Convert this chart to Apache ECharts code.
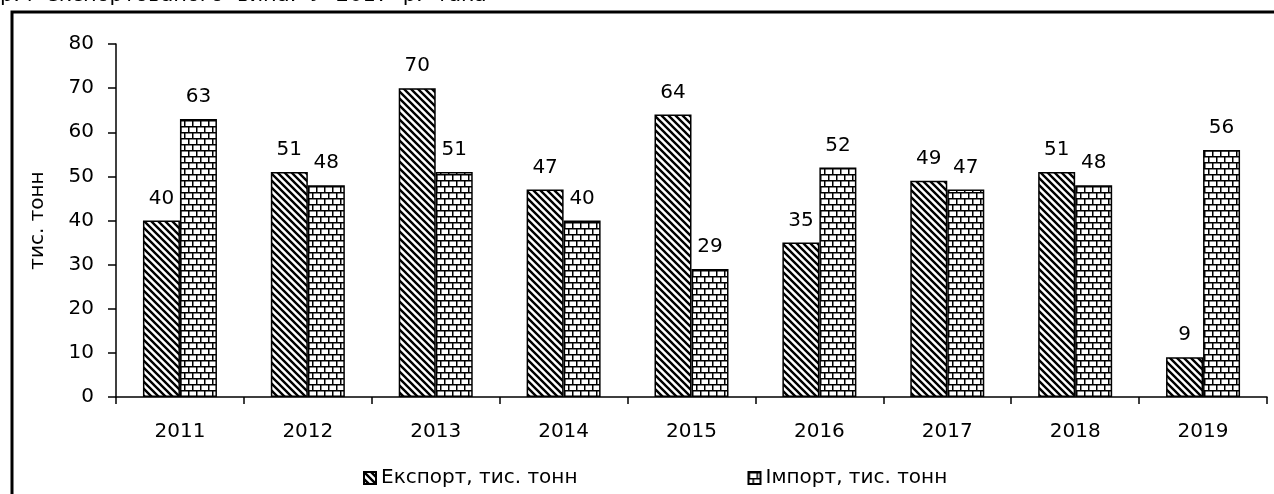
<!DOCTYPE html>
<html>
<head>
<meta charset="utf-8">
<script src="https://cdn.jsdelivr.net/npm/echarts@6/dist/echarts.min.js"></script>
<style>
html, body { margin: 0; padding: 0; background: #fff; }
#main { width: 1274px; height: 494px; }
</style>
</head>
<body>
<div id="main"></div>
<script>
var years = ['2011', '2012', '2013', '2014', '2015', '2016', '2017', '2018', '2019'];
var exportVals = [40, 51, 70, 47, 64, 35, 49, 51, 9];
var importVals = [63, 48, 51, 40, 29, 52, 47, 48, 56];
var yTicks = [0, 10, 20, 30, 40, 50, 60, 70, 80];

// штрихування "\"
function hatch() {
    var c = document.createElement('canvas');
    c.width = 7; c.height = 7;
    var g = c.getContext('2d');
    g.fillStyle = '#fff';
    g.fillRect(0, 0, 7, 7);
    g.strokeStyle = '#000';
    g.lineWidth = 2.4;
    g.beginPath();
    g.moveTo(-7, -7); g.lineTo(14, 14);
    g.moveTo(-7, 0); g.lineTo(7, 14);
    g.moveTo(0, -7); g.lineTo(14, 7);
    g.stroke();
    return c;
}

// цеглинки
function brick() {
    var c = document.createElement('canvas');
    c.width = 16; c.height = 12;
    var g = c.getContext('2d');
    g.fillStyle = '#fff';
    g.fillRect(0, 0, 16, 12);
    g.fillStyle = '#000';
    g.fillRect(0, 0, 16, 1.5);
    g.fillRect(0, 6, 16, 1.5);
    g.fillRect(0, 0, 1.5, 6);
    g.fillRect(8, 0, 1.5, 6);
    g.fillRect(4, 6, 1.5, 6);
    g.fillRect(12, 6, 1.5, 6);
    return c;
}

var font = 'DejaVu Sans';
var chart = echarts.init(document.getElementById('main'));

var option = {
    animation: false,
    backgroundColor: '#fff',
    textStyle: { fontFamily: font, color: '#000' },
    graphic: [
        {
            type: 'rect',
            shape: { x: 12, y: 12, width: 1300, height: 520 },
            style: { fill: 'none', stroke: '#000', lineWidth: 3 }
        },
        {
            type: 'text',
            left: 0,
            top: -15,
            style: { text: 'р. і  експортованого  вина.  У  2017  р.  така', font: '21px "DejaVu Sans"', fill: '#000' }
        }
    ],
    grid: { left: 116, right: 7, top: 44, bottom: 97 },
    legend: {
        left: 358,
        top: 463,
        itemWidth: 12,
        itemHeight: 12,
        itemGap: 170,
        icon: 'rect',
        textStyle: { fontFamily: font, fontSize: 20, color: '#000' },
        data: ['Експорт, тис. тонн', 'Імпорт, тис. тонн']
    },
    xAxis: {
        type: 'category',
        data: years,
        axisLine: { lineStyle: { color: '#000', width: 1.5 } },
        axisTick: { show: true, length: 7, lineStyle: { color: '#000', width: 1.5 } },
        axisLabel: { color: '#000', fontSize: 20, margin: 25, fontFamily: font }
    },
    yAxis: {
        type: 'value',
        min: 0,
        max: 80,
        interval: 10,
        name: 'тис. тонн',
        nameLocation: 'middle',
        nameGap: 68,
        nameTextStyle: { fontSize: 20, color: '#000', fontFamily: font },
        axisLine: { show: true, lineStyle: { color: '#000', width: 1.5 } },
        axisTick: { show: true, length: 8, lineStyle: { color: '#000', width: 1.5 } },
        splitLine: { show: false },
        axisLabel: {
            color: '#000', fontSize: 20, margin: 22, fontFamily: font,
            formatter: function (v) { return yTicks.indexOf(v) >= 0 ? String(v) : ''; }
        }
    },
    series: [
        {
            name: 'Експорт, тис. тонн',
            type: 'bar',
            data: exportVals,
            barWidth: 37,
            barGap: '0%',
            itemStyle: { color: { image: hatch(), repeat: 'repeat' }, borderColor: '#000', borderWidth: 1.5 },
            label: { show: true, position: 'top', distance: 12, fontSize: 20, color: '#000', fontFamily: font }
        },
        {
            name: 'Імпорт, тис. тонн',
            type: 'bar',
            data: importVals,
            barWidth: 37,
            barGap: '0%',
            itemStyle: { color: { image: brick(), repeat: 'repeat' }, borderColor: '#000', borderWidth: 1.5 },
            label: { show: true, position: 'top', distance: 12, fontSize: 20, color: '#000', fontFamily: font }
        }
    ]
};
chart.setOption(option);
</script>
</body>
</html>
